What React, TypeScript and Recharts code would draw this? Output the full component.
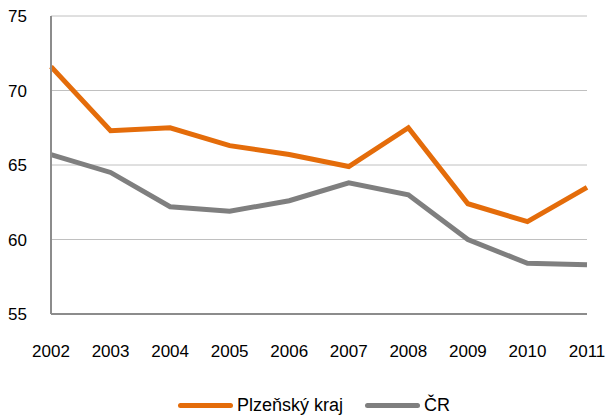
import { LineChart, Line, XAxis, YAxis, CartesianGrid, Legend } from "recharts";

const years = ["2002", "2003", "2004", "2005", "2006", "2007", "2008", "2009", "2010", "2011"];
const plzen = [71.6, 67.3, 67.5, 66.3, 65.7, 64.9, 67.5, 62.4, 61.2, 63.5];
const cr = [65.7, 64.5, 62.2, 61.9, 62.6, 63.8, 63.0, 60.0, 58.4, 58.3];
const yTicks = [55, 60, 65, 70, 75];

const ORANGE = "#E46C0A";
const GRAY = "#7F7F7F";
const FONT = "'Liberation Sans', Arial, sans-serif";

const data = years.map((y, i) => ({ year: y, plzen: plzen[i], cr: cr[i] }));

const legendItems = [
    { label: "Plzeňský kraj", color: ORANGE },
    { label: "ČR", color: GRAY },
];

const LegendContent = () => (
    <div style={{ display: "flex", alignItems: "center", height: 24, fontFamily: FONT, fontSize: 18, color: "#000" }}>
        {legendItems.map((it, i) => (
            <div key={it.label} style={{ display: "flex", alignItems: "center", marginLeft: i === 0 ? 0 : 22 }}>
                <span style={{ display: "inline-block", width: 55, height: 5, borderRadius: 3, background: it.color, marginRight: 4 }} />
                <span>{it.label}</span>
            </div>
        ))}
    </div>
);

// right edge of the y labels sits 24px left of the axis line
const YTick = ({ y, payload }: any) => (
    <text x={27} y={y} dy="0.355em" textAnchor="end" fill="#000" fontSize={17} fontFamily={FONT}>
        {payload.value}
    </text>
);

const App = () => {
    return (
        <div style={{ position: "absolute", left: 0, top: 0, background: "#fff" }}>
            <LineChart width={607} height={415} data={data} margin={{ top: 16, right: 20, left: 0, bottom: 37 }}>
                <CartesianGrid vertical={false} stroke="#c0c0c0" strokeWidth={1} />
                <XAxis
                    dataKey="year"
                    height={40}
                    tickLine={false}
                    tickMargin={25}
                    axisLine={{ stroke: "#8c8c8c", strokeWidth: 2 }}
                    tick={{ fill: "#000", fontSize: 17, fontFamily: FONT }}
                    interval={0}
                />
                <XAxis xAxisId="top" orientation="top" dataKey="year" height={0} tick={false} tickLine={false} axisLine={{ stroke: "#8c8c8c", strokeWidth: 2 }} />
                <YAxis
                    domain={[55, 75]}
                    ticks={yTicks}
                    width={51}
                    tickLine={false}
                    axisLine={{ stroke: "#8c8c8c", strokeWidth: 2 }}
                    tick={<YTick />}
                />
                <YAxis yAxisId="right" orientation="right" domain={[55, 75]} width={0} tick={false} tickLine={false} axisLine={{ stroke: "#8c8c8c", strokeWidth: 2 }} />
                <Legend
                    verticalAlign="bottom"
                    content={<LegendContent />}
                    wrapperStyle={{ left: 178, top: 393, width: "auto" }}
                />
                <Line dataKey="plzen" name="Plzeňský kraj" stroke={ORANGE} strokeWidth={5} dot={false} isAnimationActive={false} />
                <Line dataKey="cr" name="ČR" stroke={GRAY} strokeWidth={5} dot={false} isAnimationActive={false} />
            </LineChart>
        </div>
    );
};

export default App;
